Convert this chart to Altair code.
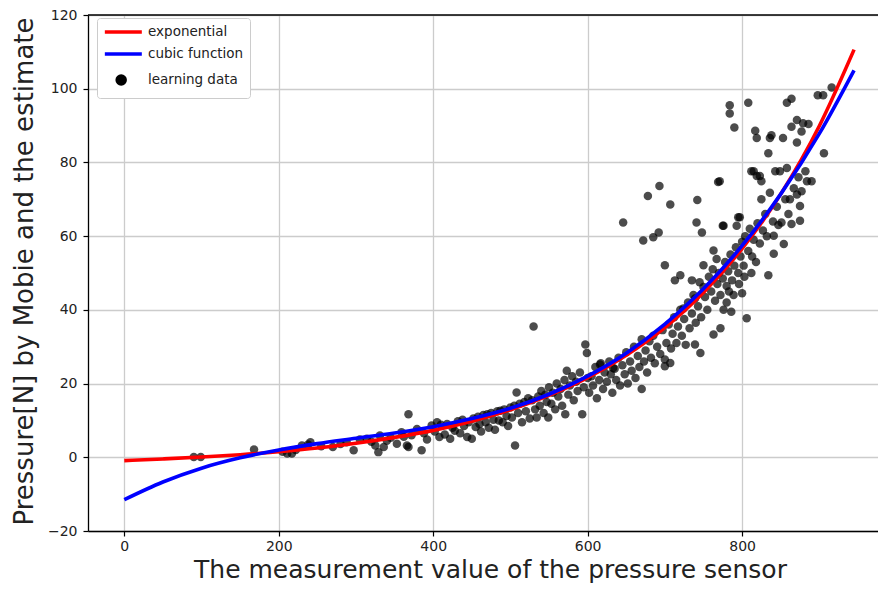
import altair as alt
import pandas as pd

# ---- fitted curves ----
curve_x = [0, 50, 100, 150, 200, 250, 300, 350, 400, 450, 500, 550, 600,
           650, 700, 750, 800, 850, 900, 945]
exp_y = [-0.9, -0.45, 0.07, 0.7, 1.5, 2.5, 3.8, 5.4, 7.3, 9.8, 12.9, 16.8,
         21.6, 27.7, 35.2, 44.7, 56.6, 71.4, 89.9, 110.6]
cubic_y = [-11.5, -6.7, -2.95, -0.15, 2.0, 3.7, 5.15, 6.6, 8.3, 10.5, 13.3,
           17.1, 22.0, 28.2, 36.1, 45.7, 57.4, 71.4, 87.8, 105.0]

# ---- learning data (x, y) ----
learning_points = [
    [90, 0.1], [99, 0.1], [168, 2.1], [205, 1.5], [211, 1.0], [217, 1.0], [222, 2.0],
    [230, 3.2], [241, 4.1], [238, 3.5], [255, 3.0], [270, 2.8], [280, 3.6], [288, 4.1],
    [297, 1.9], [305, 4.8], [314, 5.0], [320, 4.2], [325, 3.2], [329, 1.4], [331, 5.9],
    [336, 2.8], [340, 4.5], [345, 5.3], [353, 3.7], [359, 6.8], [362, 5.6], [366, 3.2],
    [368, 11.7], [368, 2.8], [372, 6.0], [379, 7.7], [385, 1.9], [388, 6.5], [392, 4.8],
    [398, 8.6], [405, 9.5],
    [402, 7.0], [408, 5.5], [410, 8.8], [415, 6.2], [418, 9.0], [422, 5.0], [425, 8.0],
    [428, 7.2], [432, 9.8], [435, 6.5], [438, 10.2], [440, 8.5], [444, 5.5], [446, 9.5],
    [450, 5.0], [452, 10.5], [455, 8.2], [458, 11.0], [460, 9.0], [462, 7.0],
    [465, 11.5], [468, 9.5], [470, 11.7], [472, 8.0], [475, 12.0], [478, 10.2], [480, 7.5],
    [483, 12.5], [485, 10.0], [487, 12.6], [490, 9.5], [492, 13.0], [495, 11.2], [497, 8.5],
    [500, 13.5], [502, 10.8], [505, 14.0], [506, 3.2], [508, 17.6], [510, 12.0],
    [512, 14.5], [515, 9.5], [518, 15.0], [520, 12.5], [523, 16.0], [525, 10.5], [528, 15.5],
    [530, 35.5], [532, 13.0], [534, 10.8], [536, 16.5], [538, 14.0], [540, 18.0], [543, 12.0],
    [545, 17.0], [547, 15.0], [549, 10.8], [550, 19.0], [553, 14.5], [555, 17.5], [558, 13.0],
    [560, 20.0], [562, 16.5], [565, 18.5], [567, 14.0], [570, 21.0], [571, 11.7], [573, 23.5],
    [575, 17.0], [577, 19.5], [580, 22.0], [582, 15.5], [585, 20.5], [587, 18.0], [590, 23.0],
    [593, 11.7], [595, 19.0], [597, 30.6], [599, 28.3], [600, 21.5],
    [602, 17.5], [605, 22.0], [607, 19.5], [610, 24.5], [612, 16.0], [615, 21.0], [616, 25.2],
    [617, 25.5], [620, 18.5], [622, 23.0], [625, 20.5], [628, 26.0], [630, 22.5], [632, 17.5],
    [633, 24.2], [635, 24.0], [637, 21.0], [640, 27.0], [642, 19.5], [645, 25.0], [646, 63.7],
    [648, 22.5], [650, 28.5], [652, 20.0], [655, 26.0], [657, 23.5], [660, 30.0], [662, 21.5],
    [665, 27.5], [667, 24.5], [670, 18.5], [670, 32.0], [672, 58.8], [673, 26.0], [675, 29.0],
    [677, 23.0], [678, 70.9], [680, 31.5], [682, 27.0], [685, 59.7], [685, 33.0], [687, 25.5],
    [690, 30.0], [692, 61.0], [693, 73.6], [694, 28.0], [697, 34.5], [700, 52.1], [700, 26.5],
    [700, 24.7], [702, 31.0], [705, 36.0], [707, 68.6], [707, 25.6],
    [708, 29.5], [710, 33.5], [712, 38.0], [713, 48.0], [715, 31.0], [717, 35.5], [720, 49.4],
    [720, 40.0], [722, 33.0], [724, 40.4], [725, 37.5], [727, 30.5], [730, 42.0], [732, 35.0],
    [735, 48.0], [735, 39.0], [737, 44.0], [739, 43.1], [739, 30.6], [740, 36.5], [741, 63.7],
    [742, 69.8], [743, 41.0], [745, 47.5], [746, 28.3], [747, 38.0], [748, 61.0], [750, 46.2],
    [750, 52.1], [752, 43.5], [755, 40.0], [757, 49.0], [760, 45.0], [762, 51.0], [763, 56.1],
    [763, 33.3], [765, 42.5], [767, 53.8], [768, 47.0], [769, 74.7], [770, 50.0], [771, 74.9],
    [772, 35.0], [772, 44.0], [775, 62.8], [775, 48.5], [776, 62.8], [776, 40.0], [778, 53.0],
    [780, 46.5], [780, 42.0], [782, 50.5], [783, 45.0], [784, 95.5], [784, 93.3], [785, 55.0],
    [786, 39.5], [787, 48.0], [789, 44.0], [790, 89.5], [790, 52.0], [792, 57.0], [793, 62.8],
    [795, 65.1], [795, 50.0], [796, 47.0], [797, 65.1], [798, 54.5], [800, 58.5], [800, 44.5],
    [802, 52.0], [803, 49.0], [804, 60.0], [806, 37.7], [808, 96.2], [808, 56.0], [810, 62.0],
    [812, 77.6], [812, 50.0], [813, 54.5], [815, 77.6], [815, 59.0], [817, 88.6], [818, 53.0],
    [819, 86.6], [819, 76.3], [820, 63.5], [823, 76.3], [823, 58.0], [825, 74.9], [825, 70.0],
    [827, 61.5], [830, 66.0], [832, 60.0], [834, 82.5], [834, 49.4], [836, 71.8], [836, 86.6],
    [838, 87.4], [840, 64.0], [841, 60.1], [841, 55.2], [843, 77.6], [845, 68.0], [847, 63.0],
    [849, 77.6], [851, 63.7], [853, 86.6], [854, 57.9], [856, 70.0], [858, 96.2], [858, 78.5],
    [860, 66.0], [862, 70.0], [864, 97.3], [864, 89.7], [864, 63.3], [867, 73.0], [871, 91.5],
    [871, 85.4], [871, 71.3], [873, 76.0], [875, 68.2], [875, 64.2], [877, 88.4], [877, 72.2],
    [879, 90.6], [882, 77.6], [884, 74.9], [886, 90.4], [890, 74.9], [898, 98.2], [905, 98.2],
    [906, 82.5], [916, 100.3],
]

top_value = [120]

series_names = ["exponential", "cubic function", "learning data"]
series_colors = ["#ff0000", "#0000ff", "#000000"]

exp_df = pd.DataFrame({"x": curve_x, "y": exp_y, "series": series_names[0]})
cub_df = pd.DataFrame({"x": curve_x, "y": cubic_y, "series": series_names[1]})
pts_df = pd.DataFrame(learning_points, columns=["x", "y"])
pts_df["series"] = series_names[2]
top_df = pd.DataFrame({"y": top_value})

font = "DejaVu Sans"
x_scale = alt.Scale(domain=[-47, 976], nice=False, zero=False)
y_scale = alt.Scale(domain=[-20, 120], nice=False, zero=False)
color_scale = alt.Scale(domain=series_names, range=series_colors)

circle_path = "M1.0,0A0.65,0.65 0 1,0 2.3,0A0.65,0.65 0 1,0 1.0,0Z"
legend = alt.Legend(
    title=None,
    orient="none",
    legendX=9,
    legendY=3,
    padding=6,
    rowPadding=7,
    labelFont=font,
    labelFontSize=13.5,
    labelColor="#222222",
    labelOffset=29,
    symbolSize=152,
    symbolStrokeWidth=3.5,
    symbolOpacity=1,
    symbolType=alt.ExprRef(expr="datum.value === 'learning data' ? '" + circle_path + "' : 'M-1,0H5'"),
    symbolStrokeColor=alt.ExprRef(expr="datum.value === 'exponential' ? '#ff0000' : (datum.value === 'cubic function' ? '#0000ff' : 'transparent')"),
    symbolFillColor=alt.ExprRef(expr="datum.value === 'learning data' ? '#444444' : 'transparent'"),
    strokeColor="#cccccc",
    fillColor="#ffffff",
    cornerRadius=3,
)

x_enc = alt.X(
    "x:Q", scale=x_scale,
    title="The measurement value of the pressure sensor",
    axis=alt.Axis(values=[0, 200, 400, 600, 800], labelPadding=3,
                  titleX=402, titleY=46, titleBaseline="alphabetic", titleAlign="center",
                  titleFontSize=25),
)
y_enc = alt.Y(
    "y:Q", scale=y_scale,
    title="Pressure[N] by Mobie and the estimate",
    axis=alt.Axis(values=[-20, 0, 20, 40, 60, 80, 100, 120], labelPadding=6,
                  titleX=-56, titleY=256, titleAngle=270, titleBaseline="alphabetic",
                  titleAlign="center", titleFontSize=26),
)
color_enc = alt.Color("series:N", scale=color_scale, legend=legend)

points = alt.Chart(pts_df).mark_circle(size=72, opacity=0.7).encode(
    x=x_enc, y=y_enc, color=color_enc
)
red_line = alt.Chart(exp_df).mark_line(strokeWidth=3.6, interpolate="monotone").encode(
    x=x_enc, y=y_enc, color=color_enc
)
blue_line = alt.Chart(cub_df).mark_line(strokeWidth=3.6, interpolate="monotone").encode(
    x=x_enc, y=y_enc, color=color_enc
)
top_spine = alt.Chart(top_df).mark_rule(color="#000000", strokeWidth=1.3).encode(
    y=y_enc
)

chart = alt.layer(points, red_line, blue_line, top_spine).properties(
    width=790,
    height=516,
    autosize=alt.AutoSizeParams(type="none"),
    padding={"left": 80, "top": 7, "right": 0, "bottom": 52},
    background="#ffffff",
).configure_view(
    stroke=None
).configure_axis(
    domainColor="#000000",
    domainWidth=1.3,
    tickColor="#000000",
    tickSize=5,
    tickWidth=1.2,
    labelFont=font,
    labelFontSize=14,
    labelColor="#222222",
    titleFont=font,
    titleFontWeight="normal",
    titleColor="#222222",
    grid=True,
    gridColor="#cccccc",
    gridWidth=1.3,
)

chart.save("out.html", embed_options={"renderer": "svg", "actions": False})
